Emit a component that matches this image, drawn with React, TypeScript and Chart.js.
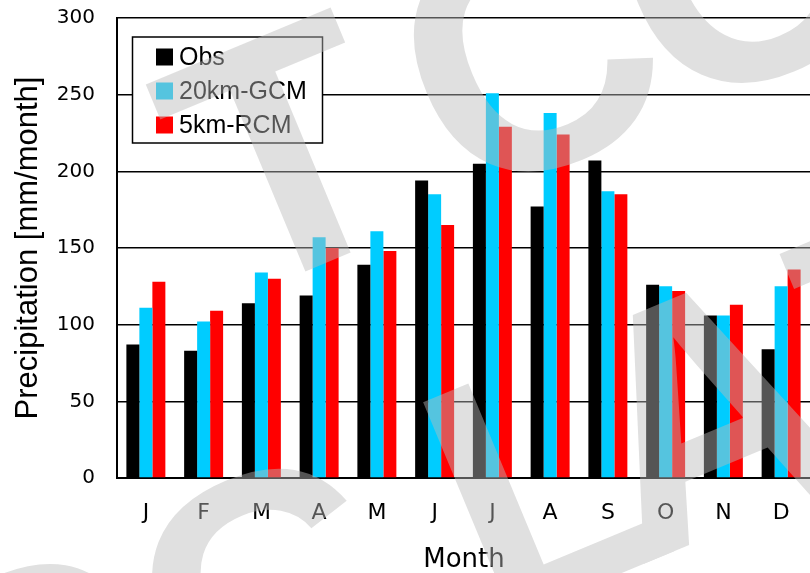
import React, { useEffect, useRef } from 'react';
import { Chart, registerables } from 'chart.js';

Chart.register(...registerables);

// Monthly precipitation [mm/month]
const months = ['J', 'F', 'M', 'A', 'M', 'J', 'J', 'A', 'S', 'O', 'N', 'D'];
const obs = [87, 83, 114, 119, 139, 194, 205, 177, 207, 126, 106, 84];
const gcm20km = [111, 102, 134, 157, 161, 185, 251, 238, 187, 125, 106, 125];
const rcm5km = [128, 109, 130, 150, 148, 165, 229, 224, 185, 122, 113, 136];

const seriesNames = ['Obs', '20km-GCM', '5km-RCM'];
const seriesColors = ['#000000', '#00CCFF', '#FF0000'];

const yMin = 0;
const yMax = 300;
const yStep = 50;

const xTitle = 'Month';
const yTitle = 'Precipitation [mm/month]';

// Letters of the faint stamp laid over the figure
const stampLine1 = ['T', 'C', 'O'];
const stampLine2 = ['C', 'C', 'L', 'A', 'T'];

const W = 810;
const H = 573;

const legendBoxPlugin = {
  id: 'legendBox',
  afterDraw(chart: any) {
    const ctx = chart.ctx as CanvasRenderingContext2D;
    ctx.save();
    const bx = 132.5, by = 37, bw = 190, bh = 106;
    ctx.fillStyle = '#ffffff';
    ctx.fillRect(bx, by, bw, bh);
    ctx.strokeStyle = '#000000';
    ctx.lineWidth = 1.5;
    ctx.strokeRect(bx, by, bw, bh);
    ctx.font = '25px "Liberation Sans", Arial, sans-serif';
    ctx.textAlign = 'left';
    ctx.textBaseline = 'middle';
    seriesNames.forEach((name, i) => {
      const cy = 57 + i * 34;
      ctx.fillStyle = seriesColors[i];
      ctx.fillRect(156, cy - 8.5, 17, 17);
      ctx.fillStyle = '#000000';
      ctx.fillText(name, 179, cy + 1);
    });
    ctx.restore();
  },
};

const titlesPlugin = {
  id: 'axisTitles',
  afterDraw(chart: any) {
    const ctx = chart.ctx as CanvasRenderingContext2D;
    const area = chart.chartArea;
    ctx.save();
    ctx.fillStyle = '#000000';
    ctx.textAlign = 'center';
    ctx.textBaseline = 'alphabetic';
    ctx.font = '26px "DejaVu Sans", sans-serif';
    ctx.fillText(xTitle, 464, 567);
    ctx.translate(37, (area.top + area.bottom) / 2);
    ctx.rotate(-Math.PI / 2);
    ctx.font = '31px "Liberation Sans", Arial, sans-serif';
    ctx.fillText(yTitle, 0, 0);
    ctx.restore();
  },
};

// Stamp letters are painted opaque on a layer first, then laid over the
// chart with one alpha so overlapping strokes keep an even tint.
const stampPlugin = {
  id: 'stamp',
  afterDraw(chart: any) {
    const ctx = chart.ctx as CanvasRenderingContext2D;
    const layer = document.createElement('canvas');
    layer.width = chart.width;
    layer.height = chart.height;
    const lctx = layer.getContext('2d');
    if (!lctx) return;
    lctx.translate(328, 262);
    lctx.rotate((-22.6 * Math.PI) / 180);
    lctx.fillStyle = 'rgb(187,187,187)';
    lctx.font = 'bold 340px "Liberation Sans", Arial, sans-serif';
    lctx.textAlign = 'center';
    lctx.textBaseline = 'alphabetic';
    const u1 = [0, 265, 504];
    stampLine1.forEach((ch, i) => lctx.fillText(ch, u1[i], 0));
    const u2 = [-433, -185, 115, 290, 520];
    stampLine2.forEach((ch, i) => lctx.fillText(ch, u2[i], 400));
    ctx.save();
    ctx.setTransform(1, 0, 0, 1, 0, 0);
    ctx.globalAlpha = 0.455;
    ctx.drawImage(layer, 0, 0);
    ctx.restore();
  },
};

export default function App() {
  const canvasRef = useRef<HTMLCanvasElement>(null);

  useEffect(() => {
    const canvas = canvasRef.current;
    if (!canvas) return;
    const values = [obs, gcm20km, rcm5km];
    const chart = new Chart(canvas, {
      type: 'bar',
      data: {
        labels: months,
        datasets: seriesNames.map((name, i) => ({
          label: name,
          data: values[i],
          backgroundColor: seriesColors[i],
          borderWidth: 0,
          categoryPercentage: 0.675,
          barPercentage: 1.0,
        })),
      },
      options: {
        animation: false,
        responsive: false,
        maintainAspectRatio: false,
        layout: { padding: { top: 18, left: 0, right: 0, bottom: 0 } },
        plugins: {
          legend: { display: false },
          tooltip: { enabled: false },
        },
        scales: {
          x: {
            grid: { display: false, drawTicks: false },
            border: { display: true, color: '#000000', width: 2 },
            ticks: {
              color: '#000000',
              font: { family: '"DejaVu Sans", sans-serif', size: 22 },
              padding: 22,
              maxRotation: 0,
            },
            afterFit: (scale: any) => {
              scale.height = 95;
              scale.paddingLeft = 0;
              scale.paddingRight = 0;
            },
          },
          y: {
            min: yMin,
            max: yMax,
            ticks: {
              stepSize: yStep,
              color: '#000000',
              font: { family: '"DejaVu Sans", sans-serif', size: 20 },
              padding: 22,
            },
            grid: { color: '#000000', lineWidth: 1.5, drawTicks: false },
            border: { display: true, color: '#000000', width: 2 },
            afterFit: (scale: any) => {
              scale.width = 117;
              scale.paddingTop = 0;
              scale.paddingBottom = 0;
            },
          },
        },
      },
      plugins: [legendBoxPlugin, titlesPlugin, stampPlugin],
    });
    return () => chart.destroy();
  }, []);

  return (
    <div style={{ position: 'absolute', left: 0, top: 0, width: W, height: H, background: '#ffffff' }}>
      <canvas ref={canvasRef} width={W} height={H} style={{ display: 'block', width: W, height: H }} />
    </div>
  );
}
